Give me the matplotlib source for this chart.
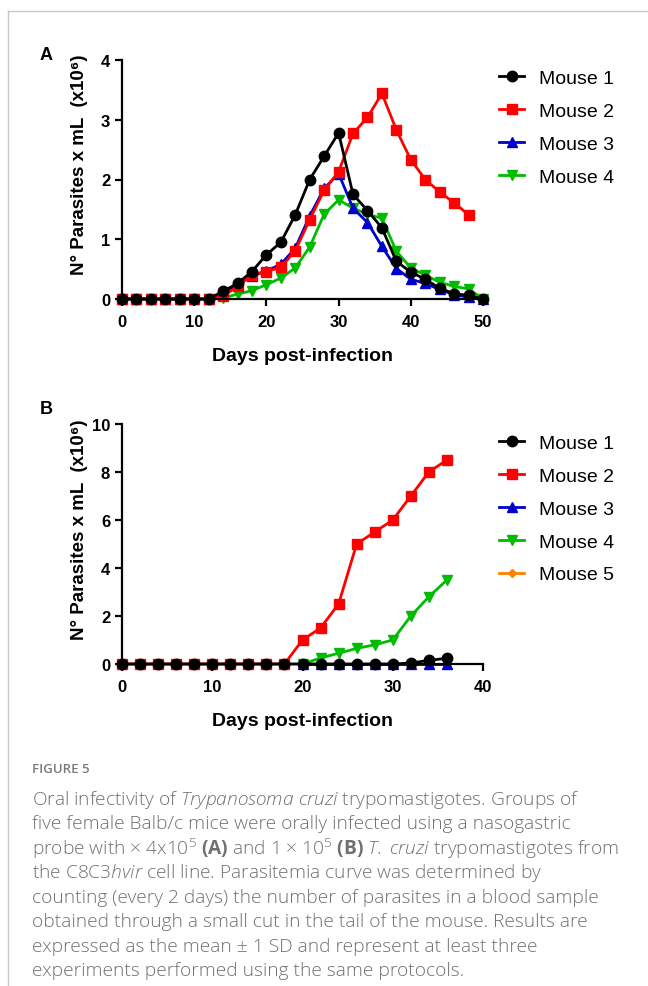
import numpy as np
import matplotlib
matplotlib.use("Agg")
import matplotlib.pyplot as plt
from matplotlib.lines import Line2D

plt.rcParams['font.family'] = ['Liberation Sans', 'DejaVu Sans']
plt.rcParams['mathtext.fontset'] = 'custom'
plt.rcParams['mathtext.rm'] = 'Open Sans:light'
plt.rcParams['mathtext.it'] = 'Open Sans:italic:light'
plt.rcParams['mathtext.bf'] = 'Open Sans:bold'

# Panel A data (x10^6 parasites/mL)
days_a = list(range(0, 51, 2))
mouse1_a = [0, 0, 0, 0, 0, 0, 0, 0.13, 0.26, 0.46, 0.74, 0.95, 1.41, 2.0, 2.39, 2.78,
            1.75, 1.48, 1.19, 0.63, 0.45, 0.33, 0.18, 0.09, 0.06, 0]
mouse2_a = [0, 0, 0, 0, 0, 0, 0, 0.05, 0.21, 0.41, 0.46, 0.53, 0.81, 1.33, 1.82, 2.13,
            2.77, 3.04, 3.44, 2.83, 2.33, 2.0, 1.79, 1.61, 1.41]
mouse3_a = [0, 0, 0, 0, 0, 0, 0, 0.1, 0.24, 0.38, 0.47, 0.58, 0.85, 1.39, 1.85, 2.1,
            1.52, 1.28, 0.88, 0.51, 0.33, 0.26, 0.16, 0.07, 0.03, 0]
mouse4_a = [0, 0, 0, 0, 0, 0, 0, 0.02, 0.08, 0.14, 0.24, 0.35, 0.52, 0.87, 1.42, 1.66,
            1.52, 1.42, 1.35, 0.8, 0.52, 0.4, 0.28, 0.21, 0.17, 0]

# Panel B data
days_b = list(range(0, 37, 2))
mouse1_b = [0] * 16 + [0.04, 0.15, 0.24]
mouse2_b = [0] * 10 + [1.0, 1.5, 2.5, 5.0, 5.5, 6.0, 7.0, 8.0, 8.5]
days_b_late = list(range(20, 37, 2))
mouse3_b = [0, 0, 0, 0, 0, 0, 0, 0, 0]
mouse4_b = [0, 0.25, 0.45, 0.65, 0.8, 1.0, 2.0, 2.8, 3.5]
mouse5_b = [0, 0, 0, 0, 0, 0, 0, 0, 0]

colors = {'Mouse 1': '#000000', 'Mouse 2': '#ff0000', 'Mouse 3': '#0000cc',
          'Mouse 4': '#00bb00', 'Mouse 5': '#ff8000'}
markers = {'Mouse 1': ('o', 7.5), 'Mouse 2': ('s', 7.5), 'Mouse 3': ('^', 7.5),
           'Mouse 4': ('v', 7.5), 'Mouse 5': ('D', 4.5)}

W, H = 648, 987
fig = plt.figure(figsize=(W / 100, H / 100), dpi=100)

# page frame lines
fig.add_artist(Line2D([8 / W, 1], [1 - 12 / H, 1 - 12 / H], color='#c8c8c8', lw=1))
fig.add_artist(Line2D([8 / W, 8 / W], [0, 1 - 12 / H], color='#c8c8c8', lw=1))


def style_axes(ax, xmax, ymax, ystep):
    ax.set_xlim(0, xmax)
    ax.set_ylim(0, ymax)
    for s in ['top', 'right']:
        ax.spines[s].set_visible(False)
    for s in ['left', 'bottom']:
        ax.spines[s].set_linewidth(1.6)
    ax.set_xticks(range(0, xmax + 1, 10))
    ax.set_yticks(np.arange(0, ymax + 0.1, ystep))
    ax.tick_params(width=1.6, length=5, labelsize=12)
    ax.tick_params(axis='x', pad=6)
    for lab in ax.get_xticklabels() + ax.get_yticklabels():
        lab.set_fontweight('bold')
    ax.set_xlabel('Days post-infection', fontsize=14, fontweight='bold', labelpad=13)
    ax.set_ylabel('N° Parasites x mL  (x10⁶)', fontsize=13.5, fontweight='bold')
    ax.yaxis.set_label_coords(-0.095, 0.565)


def plot_series(ax, x, y, name):
    m, ms = markers[name]
    ax.plot(x, y, color=colors[name], marker=m, markersize=ms, lw=2,
            label=name, clip_on=False)


def add_legend(ax, top_px):
    h, l = ax.get_legend_handles_labels()
    ax.legend(h[::-1], l[::-1], loc='upper left', bbox_to_anchor=(499 / W, 1 - top_px / H),
              bbox_transform=fig.transFigure, frameon=False, fontsize=14,
              handlelength=1.3, handletextpad=0.75, labelspacing=0.79,
              borderpad=0, borderaxespad=0)


# Panel A
axA = fig.add_axes([122 / W, 1 - 300 / H, 361 / W, 239 / H])
plot_series(axA, days_a, mouse4_a, 'Mouse 4')
plot_series(axA, days_a, mouse3_a, 'Mouse 3')
plot_series(axA, days_a[:len(mouse2_a)], mouse2_a, 'Mouse 2')
plot_series(axA, days_a, mouse1_a, 'Mouse 1')
style_axes(axA, 50, 4, 1)
add_legend(axA, 70)
fig.text(40 / W, 1 - 55 / H, 'A', fontsize=13, fontweight='bold', va='center')

# Panel B
axB = fig.add_axes([122 / W, 1 - 665 / H, 361 / W, 240 / H])
plot_series(axB, days_b_late, mouse5_b, 'Mouse 5')
plot_series(axB, days_b_late, mouse4_b, 'Mouse 4')
plot_series(axB, days_b_late, mouse3_b, 'Mouse 3')
plot_series(axB, days_b, mouse2_b, 'Mouse 2')
plot_series(axB, days_b, mouse1_b, 'Mouse 1')
style_axes(axB, 40, 10, 2)
add_legend(axB, 435)
fig.text(40 / W, 1 - 410 / H, 'B', fontsize=13, fontweight='bold', va='center')

# Caption
cap_color = '#707070'
fig.text(32 / W, 1 - 770 / H, 'FIGURE 5', fontsize=9.5, color='#7a7a7a',
         family='Open Sans', fontweight='semibold', va='center')
caption = [
    r'Oral infectivity of $\mathit{Trypanosoma\ cruzi}$ trypomastigotes. Groups of',
    'five female Balb/c mice were orally infected using a nasogastric',
    r'probe with $\times$ 4x10$^5$ $\mathbf{(A)}$ and 1 $\times$ 10$^5$ $\mathbf{(B)}$ $\mathit{T.}$ $\mathit{cruzi}$ trypomastigotes from',
    r'the C8C3$\mathit{hvir}$ cell line. Parasitemia curve was determined by',
    'counting (every 2 days) the number of parasites in a blood sample',
    'obtained through a small cut in the tail of the mouse. Results are',
    'expressed as the mean ± 1 SD and represent at least three',
    'experiments performed using the same protocols.',
]
for i, line in enumerate(caption):
    fig.text(32 / W, 1 - (800 + i * 24.5) / H, line, fontsize=13.75, color=cap_color,
             family='Open Sans', fontweight='light', va='center')

fig.savefig('out.png', dpi=100)
